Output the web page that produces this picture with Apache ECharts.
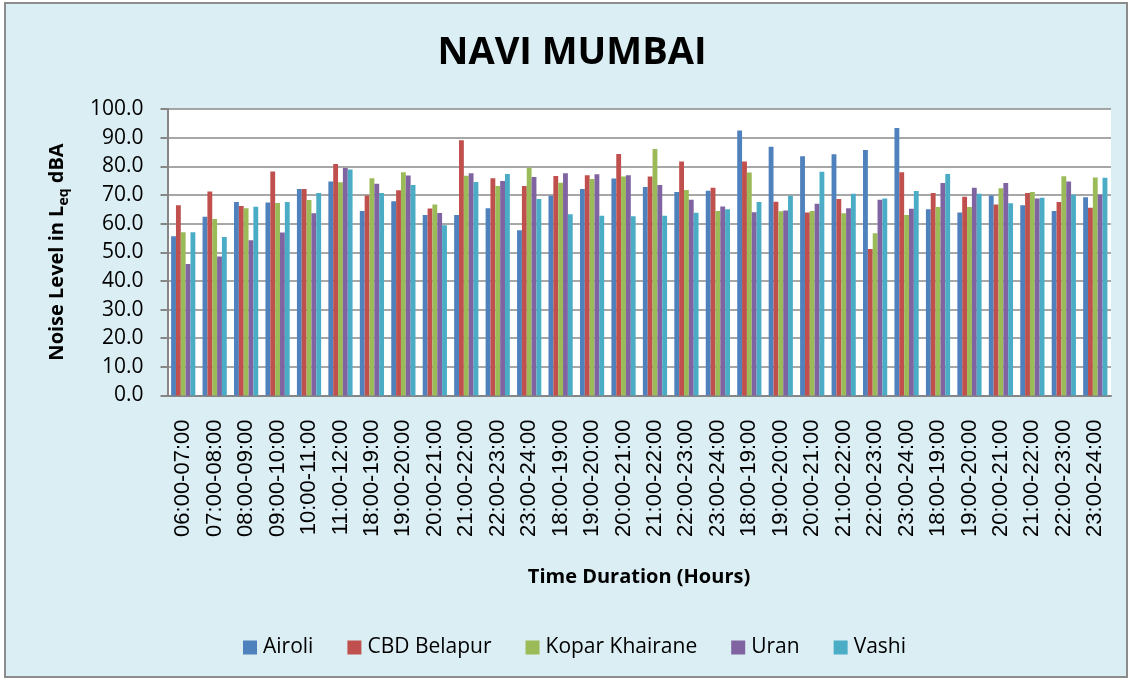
<!DOCTYPE html>
<html>
<head>
<meta charset="utf-8">
<script src="https://cdn.jsdelivr.net/npm/echarts@6/dist/echarts.min.js"></script>
<style>
html,body{margin:0;padding:0;background:#ffffff;}
#chart{width:1132px;height:680px;}
</style>
</head>
<body>
<div id="chart"></div>
<script>
const categories = [
  '06:00-07:00','07:00-08:00','08:00-09:00','09:00-10:00','10:00-11:00','11:00-12:00',
  '18:00-19:00','19:00-20:00','20:00-21:00','21:00-22:00','22:00-23:00','23:00-24:00',
  '18:00-19:00','19:00-20:00','20:00-21:00','21:00-22:00','22:00-23:00','23:00-24:00',
  '18:00-19:00','19:00-20:00','20:00-21:00','21:00-22:00','22:00-23:00','23:00-24:00',
  '18:00-19:00','19:00-20:00','20:00-21:00','21:00-22:00','22:00-23:00','23:00-24:00'
];
const seriesNames = ['Airoli','CBD Belapur','Kopar Khairane','Uran','Vashi'];
const airoli = [55.6,62.4,67.5,67.4,72.1,74.7, 64.4,67.8,63.0,63.0,65.4,57.7, 69.7,72.1,75.7,72.8,71.0,71.5, 92.5,86.8,83.5,84.2,85.7,93.4, 65.0,63.9,69.8,66.4,64.4,69.2];
const cbdBelapur = [66.4,71.2,66.1,78.2,72.1,80.8, 69.8,71.6,65.3,89.1,75.8,73.1, 76.6,76.9,84.3,76.4,81.7,72.5, 81.7,67.6,63.9,68.6,51.1,77.9, 70.7,69.4,66.7,70.7,67.5,65.5];
const koparKhairane = [57.0,61.6,65.4,67.2,68.2,74.4, 75.8,77.9,66.7,76.7,73.1,79.5, 74.3,75.6,76.4,86.0,71.7,64.4, 77.8,64.3,64.4,63.6,56.6,63.0, 65.8,65.8,72.3,71.0,76.5,76.1];
const uran = [45.9,48.5,54.2,56.9,63.6,79.4, 73.9,76.8,63.7,77.6,74.9,76.3, 77.6,77.2,76.9,73.5,68.3,66.0, 64.0,64.6,66.9,65.4,68.3,65.2, 74.2,72.5,74.2,68.8,74.7,70.1];
const vashi = [57.0,55.3,65.9,67.5,70.7,78.9, 70.7,73.5,59.4,74.5,77.3,68.6, 63.3,62.7,62.6,62.7,63.8,65.0, 67.5,69.7,78.1,70.4,68.8,71.4, 77.3,70.4,67.1,69.0,70.1,76.0];
const seriesValues = [airoli, cbdBelapur, koparKhairane, uran, vashi];
const colors = ['#4F81BD','#C0504D','#9BBB59','#8064A2','#4BACC6'];

const chart = echarts.init(document.getElementById('chart'), null, {renderer:'canvas'});
const option = {
  animation: false,
  backgroundColor: '#ffffff',
  color: colors,
  graphic: [
    {type:'rect', z:-10, shape:{x:5,y:3,width:1122,height:674}, style:{fill:'#DBEEF4', stroke:'#8c8c8c', lineWidth:2}},
    {type:'text', z:10, x:572, y:53, style:{text:'NAVI MUMBAI', font:'bold 38px "Open Sans"', fill:'#000', textAlign:'center', textVerticalAlign:'middle'}},
    {type:'text', z:10, x:639, y:577, style:{text:'Time Duration (Hours)', font:'bold 20px "Open Sans"', fill:'#000', textAlign:'center', textVerticalAlign:'middle'}},
    {type:'text', z:10, x:57, y:252, rotation:Math.PI/2, style:{
      text:'{a|Noise Level in L}{s|eq}{a| dBA}', textAlign:'center', textVerticalAlign:'middle', fill:'#000',
      rich:{
        a:{font:'bold 20px "Open Sans"', fill:'#000', lineHeight:28, verticalAlign:'middle'},
        s:{font:'bold 14px "Open Sans"', fill:'#000', lineHeight:28, padding:[10,0,0,0], verticalAlign:'bottom'}
      }
    }}
  ],
  grid: {left:167.5, top:109, right:21, bottom:284.5, show:true, backgroundColor:'#ffffff', borderWidth:0},
  legend: {
    data: seriesNames, left:243, top:637, padding:0, itemGap:34, itemWidth:14, itemHeight:14,
    icon:'rect', textStyle:{fontFamily:'Open Sans', fontSize:21, color:'#000', padding:[0,0,0,1]}
  },
  xAxis: {
    type:'category', data:categories,
    axisLine:{show:true, lineStyle:{color:'#868686', width:2}},
    axisTick:{show:false},
    axisLabel:{rotate:90, interval:0, margin:24, fontFamily:'Liberation Sans', fontSize:22, color:'#000'},
    splitLine:{show:false}
  },
  yAxis: {
    type:'value', min:0, max:100, interval:10,
    axisLine:{show:true, lineStyle:{color:'#868686', width:2}},
    axisTick:{show:true, length:7, lineStyle:{color:'#868686', width:2}},
    axisLabel:{margin:24, fontFamily:'Open Sans', fontSize:21, color:'#000', formatter:v=>v.toFixed(1)},
    splitLine:{show:true, lineStyle:{color:'#8a8a8a', width:1.5}}
  },
  series: seriesNames.map((n,i)=>({
    name:n, type:'bar', data:seriesValues[i], barGap:'0%', barCategoryGap:'23%',
    itemStyle:{color:colors[i]}
  }))
};
chart.setOption(option);
</script>
</body>
</html>
